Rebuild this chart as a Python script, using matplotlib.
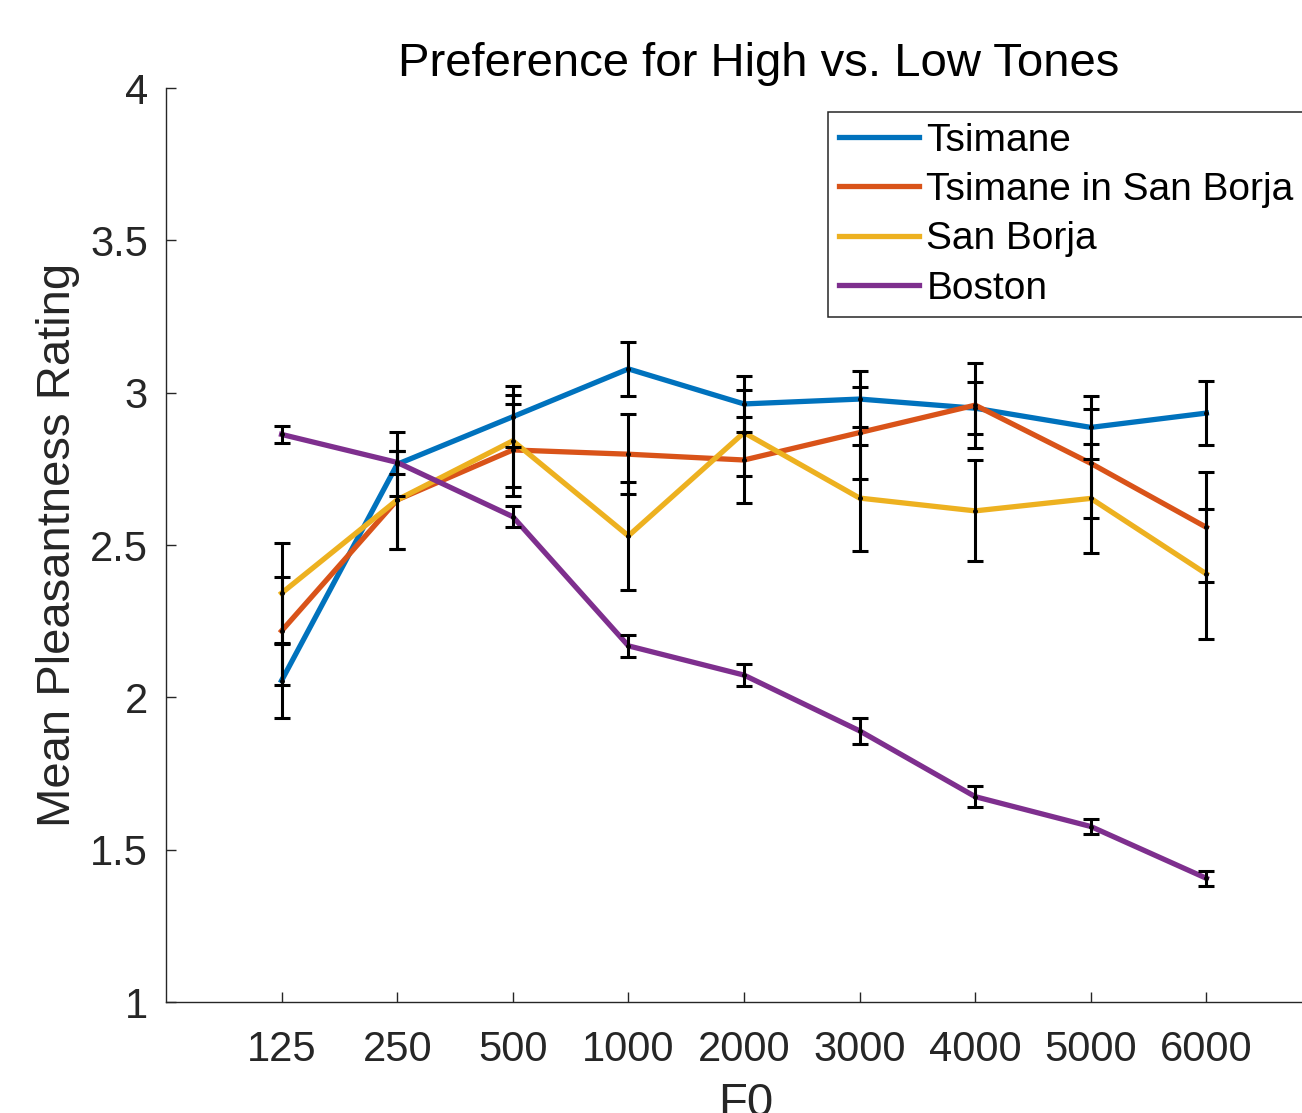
import matplotlib
matplotlib.use("Agg")
import matplotlib.pyplot as plt
import numpy as np

# F0 categories
f0_labels = ["125", "250", "500", "1000", "2000", "3000", "4000", "5000", "6000"]

# group means and error bar half-lengths
tsimane = [2.055, 2.765, 2.921, 3.078, 2.963, 2.979, 2.949, 2.886, 2.933]
tsimane_err = [0.122, 0.105, 0.100, 0.089, 0.092, 0.091, 0.085, 0.104, 0.104]
tsimane_sb = [2.218, 2.648, 2.812, 2.798, 2.779, 2.869, 2.959, 2.768, 2.558]
tsimane_sb_err = [0.178, 0.160, 0.152, 0.131, 0.142, 0.151, 0.139, 0.179, 0.180]
san_borja = [2.342, 2.648, 2.842, 2.530, 2.869, 2.654, 2.612, 2.653, 2.405]
san_borja_err = [0.166, 0.160, 0.150, 0.177, 0.141, 0.173, 0.166, 0.178, 0.213]
boston = [2.863, 2.771, 2.593, 2.169, 2.073, 1.890, 1.674, 1.576, 1.406]
boston_err = [0.027, 0.037, 0.035, 0.035, 0.036, 0.042, 0.035, 0.025, 0.025]

names = ["Tsimane", "Tsimane in San Borja", "San Borja", "Boston"]
colors = ["#0072BD", "#D95319", "#EDB120", "#7E2F8E"]
means = [tsimane, tsimane_sb, san_borja, boston]
errs = [tsimane_err, tsimane_sb_err, san_borja_err, boston_err]

plt.rcParams["font.family"] = ["Liberation Sans", "DejaVu Sans"]
axcol = "#262626"

W, H = 1302, 1113
fig = plt.figure(figsize=(W / 100, H / 100), dpi=100)
ax = fig.add_axes([166 / W, 1 - 1002 / H, 1156 / W, 914 / H])

x = np.arange(1, len(f0_labels) + 1)

lines = []
for m, c, n in zip(means, colors, names):
    ln, = ax.plot(x, m, color=c, lw=3.8, label=n, zorder=2)
    lines.append(ln)

for m, e in zip(means, errs):
    ax.errorbar(x, m, yerr=e, fmt=".", color="k", ms=5, elinewidth=2.2,
                capsize=6, capthick=2.2, zorder=3)

ax.set_xlim(0, 10)
ax.set_ylim(1, 4)
ax.set_xticks(x)
ax.set_xticklabels(f0_labels)
ax.set_yticks([1, 1.5, 2, 2.5, 3, 3.5, 4])
ax.set_yticklabels(["1", "1.5", "2", "2.5", "3", "3.5", "4"])

ax.spines["top"].set_visible(False)
ax.spines["right"].set_visible(False)
for s in ["left", "bottom"]:
    ax.spines[s].set_color(axcol)
    ax.spines[s].set_linewidth(1.0)
ax.tick_params(axis="both", direction="in", length=7, width=1.0,
               colors=axcol, labelsize=30)
ax.tick_params(axis="x", pad=20)
ax.tick_params(axis="y", pad=13)

fig.text(759 / W, 1 - 76 / H, "Preference for High vs. Low Tones",
         ha="center", va="baseline", fontsize=34, color="k")
fig.text(58 / W, 1 - 545 / H, "Mean Pleasantness Rating", rotation=90,
         ha="center", va="center", fontsize=34, color=axcol)
# x label sits partly below the bottom edge, as in the original export
fig.text(746 / W, 1 - 1116 / H, "F0", ha="center", va="baseline",
         fontsize=34, color=axcol)

leg = ax.legend(handles=lines, loc="upper left",
                bbox_to_anchor=(828 / W, 1 - 112 / H),
                bbox_transform=fig.transFigure, borderaxespad=0,
                fontsize=28, handlelength=2.05, handletextpad=0.2,
                borderpad=0.28, labelspacing=0.34, fancybox=False,
                framealpha=1, edgecolor=axcol)
leg.get_frame().set_linewidth(1.1)

fig.savefig("out.png", dpi=100)
